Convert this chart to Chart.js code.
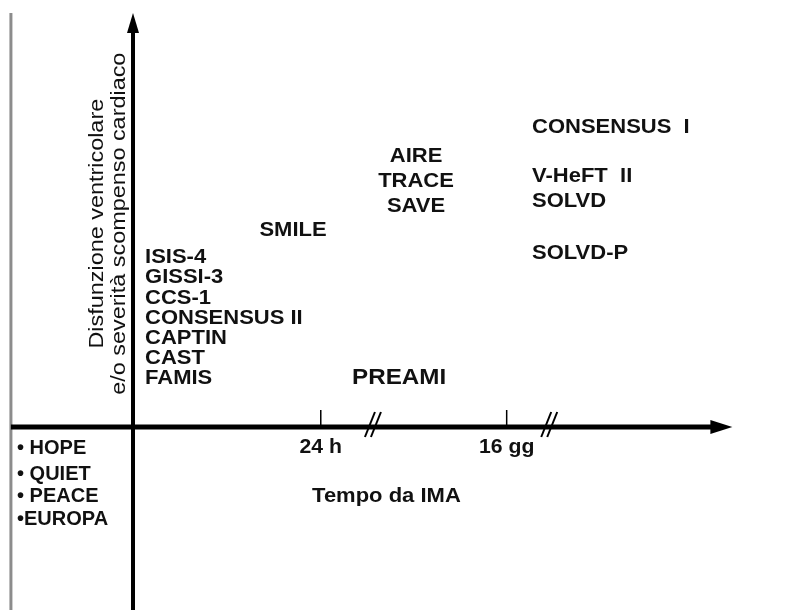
<!DOCTYPE html>
<html>

<head>
  <script src="https://cdn.jsdelivr.net/npm/chart.js@4/dist/chart.umd.min.js"></script>
  <style>
    body { margin: 0; background: #fff; }
  </style>
</head>

<body>
  <canvas id="myChart" width="791" height="610"></canvas>
  <script type="text/javascript">
    // trials started early (first 24 h), listed along the y axis
    var earlyTrials = ['ISIS-4', 'GISSI-3', 'CCS-1', 'CONSENSUS II', 'CAPTIN', 'CAST', 'FAMIS'];
    var earlyY = [8.41, 7.43, 6.42, 5.43, 4.43, 3.44, 2.46];
    var earlyX = 0.65;

    var smileTrial = ['SMILE'];
    var smileX = [8.65];
    var smileY = [9.74];

    var midTrials = ['AIRE', 'TRACE', 'SAVE'];
    var midX = [15.3, 15.3, 15.3];
    var midY = [13.38, 12.15, 10.92];

    var preamiTrial = ['PREAMI'];
    var preamiX = [11.84];
    var preamiY = [2.51];

    var lateTrials = ['CONSENSUS  I', 'V-HeFT  II', 'SOLVD', 'SOLVD-P'];
    var lateX = 21.57;
    var lateY = [14.8, 12.39, 11.16, 8.61];

    // trials without LV dysfunction, under the time axis
    var otherTrials = ['\u2022 HOPE', '\u2022 QUIET', '\u2022 PEACE', '\u2022EUROPA'];
    var otherX = -6.27;
    var otherY = [-0.98, -2.26, -3.34, -4.48];

    // time axis
    var tickLabels = ['24 h', '16 gg'];
    var tickX = [10.15, 20.2];
    var breakX = [12.97, 22.5];
    var xTitle = 'Tempo da IMA';
    var yTitle = ['Disfunzione ventricolare', 'e/o severità scompenso cardiaco'];

    var FONT = '"Liberation Sans", Arial, sans-serif';

    function pts(xs, ys) {
      return ys.map(function(y, i) {
        return { x: Array.isArray(xs) ? xs[i] : xs, y: y };
      });
    }

    function drawLabel(ctx, text, x, y, size, weight, align, sx) {
      ctx.save();
      ctx.font = weight + ' ' + size + 'px ' + FONT;
      ctx.textAlign = align;
      ctx.textBaseline = 'alphabetic';
      ctx.translate(x, y + size * 0.36);
      ctx.scale(sx, 1);
      ctx.fillText(text, 0, 0);
      ctx.restore();
    }

    var diagramPlugin = {
      id: 'diagram',
      beforeDatasetsDraw: function(chart) {
        var ctx = chart.ctx;
        var xs = chart.scales.x, ys = chart.scales.y;
        var x0 = xs.getPixelForValue(0), y0 = ys.getPixelForValue(0);
        var left = xs.getPixelForValue(-6.6);
        var top = ys.getPixelForValue(20.36);
        var bottom = ys.getPixelForValue(-9);
        var tip = xs.getPixelForValue(32.4);

        ctx.save();
        // gray frame line at the left
        ctx.strokeStyle = '#8c8c8c';
        ctx.lineWidth = 3;
        ctx.beginPath();
        ctx.moveTo(left, top);
        ctx.lineTo(left, bottom);
        ctx.stroke();

        ctx.strokeStyle = '#000';
        ctx.fillStyle = '#000';
        // y axis
        ctx.lineWidth = 4;
        ctx.beginPath();
        ctx.moveTo(x0, bottom);
        ctx.lineTo(x0, top + 14);
        ctx.stroke();
        ctx.beginPath();
        ctx.moveTo(x0, top);
        ctx.lineTo(x0 - 6, top + 20);
        ctx.lineTo(x0 + 6, top + 20);
        ctx.closePath();
        ctx.fill();

        // x axis
        ctx.lineWidth = 5;
        ctx.beginPath();
        ctx.moveTo(left, y0);
        ctx.lineTo(tip - 16, y0);
        ctx.stroke();
        ctx.beginPath();
        ctx.moveTo(tip, y0);
        ctx.lineTo(tip - 22, y0 - 7);
        ctx.lineTo(tip - 22, y0 + 7);
        ctx.closePath();
        ctx.fill();

        // ticks
        ctx.lineWidth = 1.5;
        tickX.forEach(function(v) {
          var px = xs.getPixelForValue(v);
          ctx.beginPath();
          ctx.moveTo(px, y0 - 17);
          ctx.lineTo(px, y0);
          ctx.stroke();
        });

        // axis breaks //
        ctx.lineWidth = 2;
        breakX.forEach(function(v) {
          var px = xs.getPixelForValue(v);
          [-3, 3].forEach(function(d) {
            ctx.beginPath();
            ctx.moveTo(px + d + 5, y0 - 15);
            ctx.lineTo(px + d - 5, y0 + 10);
            ctx.stroke();
          });
        });

        ctx.fillStyle = '#111';
        tickLabels.forEach(function(t, i) {
          drawLabel(ctx, t, xs.getPixelForValue(tickX[i]), ys.getPixelForValue(-0.93), 20, 'bold', 'center', 1.06);
        });
        drawLabel(ctx, xTitle, xs.getPixelForValue(13.7), ys.getPixelForValue(-3.34), 20, 'bold', 'center', 1.1);

        // rotated y title, two lines
        var baseX = [-1.62, -0.43];
        yTitle.forEach(function(t, i) {
          ctx.save();
          ctx.font = 'normal 19.5px ' + FONT;
          ctx.textAlign = 'center';
          ctx.textBaseline = 'alphabetic';
          ctx.translate(xs.getPixelForValue(baseX[i]), ys.getPixelForValue(10));
          ctx.rotate(-Math.PI / 2);
          ctx.scale(1.2, 1);
          ctx.fillText(t, 0, 0);
          ctx.restore();
        });
        ctx.restore();
      },
      afterDatasetsDraw: function(chart) {
        var ctx = chart.ctx;
        ctx.save();
        ctx.fillStyle = '#111';
        chart.data.datasets.forEach(function(ds, i) {
          var meta = chart.getDatasetMeta(i);
          meta.data.forEach(function(el, j) {
            drawLabel(ctx, ds.names[j], el.x, el.y, ds.fontSize, 'bold', ds.align, ds.stretch);
          });
        });
        ctx.restore();
      }
    };

    var ctx = document.getElementById('myChart').getContext('2d');
    var chart = new Chart(ctx, {
      type: 'scatter',
      data: {
        datasets: [
          { names: earlyTrials, data: pts(earlyX, earlyY), fontSize: 20, align: 'left', stretch: 1.1 },
          { names: smileTrial, data: pts(smileX, smileY), fontSize: 20, align: 'center', stretch: 1.1 },
          { names: midTrials, data: pts(midX, midY), fontSize: 20, align: 'center', stretch: 1.1 },
          { names: preamiTrial, data: pts(preamiX, preamiY), fontSize: 22, align: 'left', stretch: 1.1 },
          { names: lateTrials, data: pts(lateX, lateY), fontSize: 20, align: 'left', stretch: 1.1 },
          { names: otherTrials, data: pts(otherX, otherY), fontSize: 20, align: 'left', stretch: 1.0 }
        ]
      },
      options: {
        responsive: false,
        animation: false,
        events: [],
        layout: { padding: 0 },
        elements: { point: { radius: 0 } },
        plugins: { legend: { display: false }, tooltip: { enabled: false } },
        scales: {
          x: { type: 'linear', display: false, min: -7.19, max: 35.57 },
          y: { type: 'linear', display: false, min: -9, max: 21 }
        }
      },
      plugins: [diagramPlugin]
    });
  </script>
</body>

</html>
